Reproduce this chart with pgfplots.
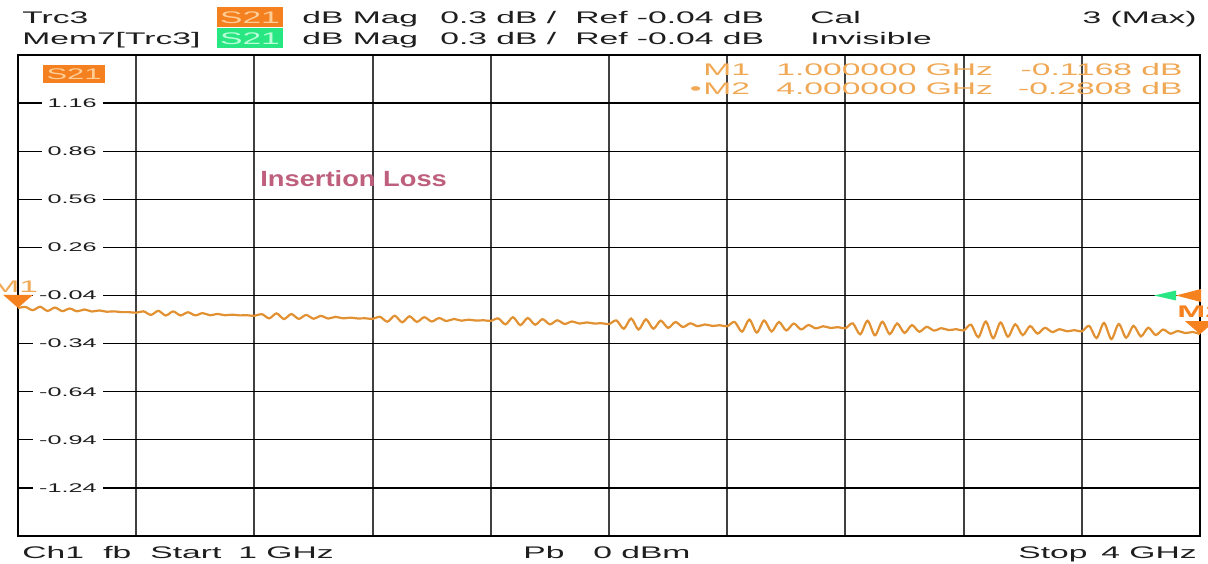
\documentclass[border=0pt]{standalone}
\usepackage{pgfplots}
\pgfplotsset{compat=1.18}
\usepackage{pgfplotstable}
\usepackage{fontspec}
\setmainfont{Liberation Sans}[FakeStretch=2]
\newfontfamily\ilfont{Liberation Sans}[FakeStretch=1.24]

\definecolor{trace}{RGB}{226,145,50}
\definecolor{mkor}{RGB}{245,130,30}
\definecolor{mktxt}{RGB}{240,168,85}
\definecolor{boxor}{RGB}{245,128,32}
\definecolor{boxortxt}{RGB}{255,205,150}
\definecolor{boxgr}{RGB}{40,230,130}
\definecolor{boxgrtxt}{RGB}{185,255,215}
\definecolor{ilcol}{RGB}{190,95,125}
\definecolor{vgrid}{RGB}{64,64,64}
\definecolor{txt}{RGB}{30,30,30}

% marker shapes
\pgfdeclareplotmark{mkdown}{%
  \pgfpathmoveto{\pgfpointorigin}%
  \pgfpathlineto{\pgfpoint{-7.5pt}{6.5pt}}%
  \pgfpathlineto{\pgfpoint{7.5pt}{6.5pt}}%
  \pgfpathclose\pgfusepathqfill}
\pgfdeclareplotmark{refor}{%
  \pgfpathmoveto{\pgfpoint{-12pt}{0pt}}%
  \pgfpathlineto{\pgfpoint{0.5pt}{3.25pt}}%
  \pgfpathlineto{\pgfpoint{0.5pt}{-3.25pt}}%
  \pgfpathclose\pgfusepathqfill}
\pgfdeclareplotmark{refgr}{%
  \pgfpathmoveto{\pgfpoint{-23pt}{0pt}}%
  \pgfpathlineto{\pgfpoint{-12pt}{2.5pt}}%
  \pgfpathlineto{\pgfpoint{-12pt}{-2.5pt}}%
  \pgfpathclose\pgfusepathqfill}

% S21 trace, GHz / dB
\pgfplotstableread{
f      s21
1.00000 -0.1182
1.01875 -0.1116
1.03750 -0.1314
1.05625 -0.1104
1.07500 -0.1363
1.09375 -0.1153
1.11250 -0.1375
1.13125 -0.1213
1.15000 -0.1387
1.16875 -0.1273
1.18750 -0.1399
1.20625 -0.1333
1.22500 -0.1412
1.24375 -0.1388
1.26250 -0.1436
1.28125 -0.1436
1.30000 -0.1474
1.31875 -0.1388
1.33750 -0.1610
1.35625 -0.1356
1.37500 -0.1648
1.39375 -0.1393
1.41250 -0.1643
1.43125 -0.1445
1.45000 -0.1639
1.46875 -0.1497
1.48750 -0.1635
1.50625 -0.1549
1.52500 -0.1631
1.54375 -0.1593
1.56250 -0.1640
1.58125 -0.1631
1.60000 -0.1667
1.61875 -0.1560
1.63750 -0.1827
1.65625 -0.1516
1.67500 -0.1868
1.69375 -0.1556
1.71250 -0.1857
1.73125 -0.1614
1.75000 -0.1847
1.76875 -0.1672
1.78750 -0.1837
1.80625 -0.1730
1.82500 -0.1827
1.84375 -0.1779
1.86250 -0.1833
1.88125 -0.1820
1.90000 -0.1860
1.91875 -0.1728
1.93750 -0.2035
1.95625 -0.1663
1.97500 -0.2070
1.99375 -0.1698
2.01250 -0.2045
2.03125 -0.1753
2.05000 -0.2020
2.06875 -0.1808
2.08750 -0.1995
2.10625 -0.1863
2.12500 -0.1970
2.14375 -0.1908
2.16250 -0.1965
2.18125 -0.1943
2.20000 -0.1984
2.21875 -0.1828
2.23750 -0.2200
2.25625 -0.1756
2.27500 -0.2248
2.29375 -0.1803
2.31250 -0.2223
2.33125 -0.1875
2.35000 -0.2199
2.36875 -0.1947
2.38750 -0.2175
2.40625 -0.2019
2.42500 -0.2151
2.44375 -0.2078
2.46250 -0.2150
2.48125 -0.2126
2.50000 -0.2184
2.51875 -0.1954
2.53750 -0.2472
2.55625 -0.1834
2.57500 -0.2523
2.59375 -0.1885
2.61250 -0.2471
2.63125 -0.1969
2.65000 -0.2419
2.66875 -0.2053
2.68750 -0.2367
2.70625 -0.2137
2.72500 -0.2316
2.74375 -0.2205
2.76250 -0.2298
2.78125 -0.2255
2.80000 -0.2320
2.81875 -0.2048
2.83750 -0.2655
2.85625 -0.1903
2.87500 -0.2710
2.89375 -0.1958
2.91250 -0.2645
2.93125 -0.2053
2.95000 -0.2580
2.96875 -0.2148
2.98750 -0.2515
3.00625 -0.2243
3.02500 -0.2450
3.04375 -0.2318
3.06250 -0.2425
3.08125 -0.2373
3.10000 -0.2445
3.11875 -0.2138
3.13750 -0.2821
3.15625 -0.1974
3.17500 -0.2883
3.19375 -0.2036
3.21250 -0.2809
3.23125 -0.2142
3.25000 -0.2735
3.26875 -0.2248
3.28750 -0.2661
3.30625 -0.2354
3.32500 -0.2588
3.34375 -0.2439
3.36250 -0.2559
3.38125 -0.2500
3.40000 -0.2582
3.41875 -0.2222
3.43750 -0.3006
3.45625 -0.2021
3.47500 -0.3065
3.49375 -0.2081
3.51250 -0.2969
3.53125 -0.2192
3.55000 -0.2872
3.56875 -0.2304
3.58750 -0.2776
3.60625 -0.2415
3.62500 -0.2679
3.64375 -0.2501
3.66250 -0.2635
3.68125 -0.2560
3.70000 -0.2640
3.71875 -0.2298
3.73750 -0.3055
3.75625 -0.2113
3.77500 -0.3120
3.79375 -0.2178
3.81250 -0.3035
3.83125 -0.2293
3.85000 -0.2950
3.86875 -0.2408
3.88750 -0.2865
3.90625 -0.2523
3.92500 -0.2780
3.94375 -0.2613
3.96250 -0.2745
3.98125 -0.2678
4.00000 -0.2808
}\trcdata

\newcommand\hf{\fontsize{8.4}{10}\selectfont}

\begin{document}
\begin{tikzpicture}
\useasboundingbox (-9pt,-13.5pt) rectangle (595pt,268pt);
\begin{axis}[
  at={(0,0)}, anchor=south west,
  width=591pt, height=240.5pt, scale only axis,
  xmin=1, xmax=4, ymin=-1.54, ymax=1.46,
  xtick={1,1.3,1.6,1.9,2.2,2.5,2.8,3.1,3.4,3.7,4},
  xticklabels={},
  ytick={-1.24,-0.94,-0.64,-0.34,-0.04,0.26,0.56,0.86,1.16},
  yticklabels={-1.24,-0.94,-0.64,-0.34,-0.04,0.26,0.56,0.86,1.16},
  grid=major,
  major tick length=0pt,
  x grid style={vgrid, line width=1pt},
  y grid style={black, line width=0.6pt},
  axis line style={black, line width=0.6pt},
  yticklabel style={anchor=east, xshift=42.5pt, fill=white, inner xsep=3pt, inner ysep=1.5pt,
    font=\fontsize{6.3}{7}\selectfont, text=txt},
]
\addplot[trace, line width=1.1pt, smooth, no markers] table[x=f, y=s21] {\trcdata};
\addplot[only marks, mark=mkdown, color=mkor, fill=mkor] coordinates {(1,-0.1168) (4,-0.2808)};
\addplot[only marks, mark=refgr, color=boxgr, fill=boxgr] coordinates {(4,-0.04)};
\addplot[only marks, mark=refor, color=mkor, fill=mkor] coordinates {(4,-0.04)};
\end{axis}

% screen annotations, in image pixels
\begin{scope}[shift={(-9pt,268pt)}, x=0.5pt, y=-0.5pt,
  every node/.style={inner sep=0pt, anchor=base west, font=\hf, text=txt}]
  \node at (22,24) {Trc3};
  \fill[boxor] (217,7) rectangle (283,27);
  \node[anchor=base, text=boxortxt] at (250,24) {S21};
  \node at (302,24) {dB Mag};
  \node at (440,24) {0.3 dB /};
  \node at (575,24) {Ref -0.04 dB};
  \node at (810,24) {Cal};
  \node[anchor=base east] at (1197,24) {3 (Max)};

  \node at (22,45) {Mem7[Trc3]};
  \fill[boxgr] (217,28) rectangle (283,48);
  \node[anchor=base, text=boxgrtxt] at (250,45) {S21};
  \node at (302,45) {dB Mag};
  \node at (440,45) {0.3 dB /};
  \node at (575,45) {Ref -0.04 dB};
  \node at (810,45) {Invisible};

  \fill[boxor] (43,65) rectangle (105,83);
  \node[anchor=base, text=boxortxt, font=\fontsize{7.7}{9}\selectfont] at (74,80) {S21};

  \node[text=mktxt] at (703,76) {M1};
  \node[text=mktxt] at (776,76) {1.000000 GHz};
  \node[text=mktxt, anchor=base east] at (1183,76) {-0.1168 dB};
  \node[text=mktxt, anchor=base east] at (702,95) {•};
  \node[text=mktxt] at (703,95) {M2};
  \node[text=mktxt] at (776,95) {4.000000 GHz};
  \node[text=mktxt, anchor=base east] at (1183,95) {-0.2808 dB};

  \node[text=ilcol, font={\fontsize{11}{13}\ilfont\bfseries}] at (260,186) {Insertion Loss};

  \node[text=mktxt] at (-9,292) {M1};
  \node[text=mkor, font={\hf\bfseries}] at (1177,317) {M2};

  \node at (22,558) {Ch1};
  \node at (103,558) {fb};
  \node at (150,558) {Start};
  \node at (238,558) {1 GHz};
  \node at (523,558) {Pb};
  \node at (593,558) {0 dBm};
  \node at (1018,558) {Stop};
  \node[anchor=base east] at (1197,558) {4 GHz};
\end{scope}
\end{tikzpicture}
\end{document}
